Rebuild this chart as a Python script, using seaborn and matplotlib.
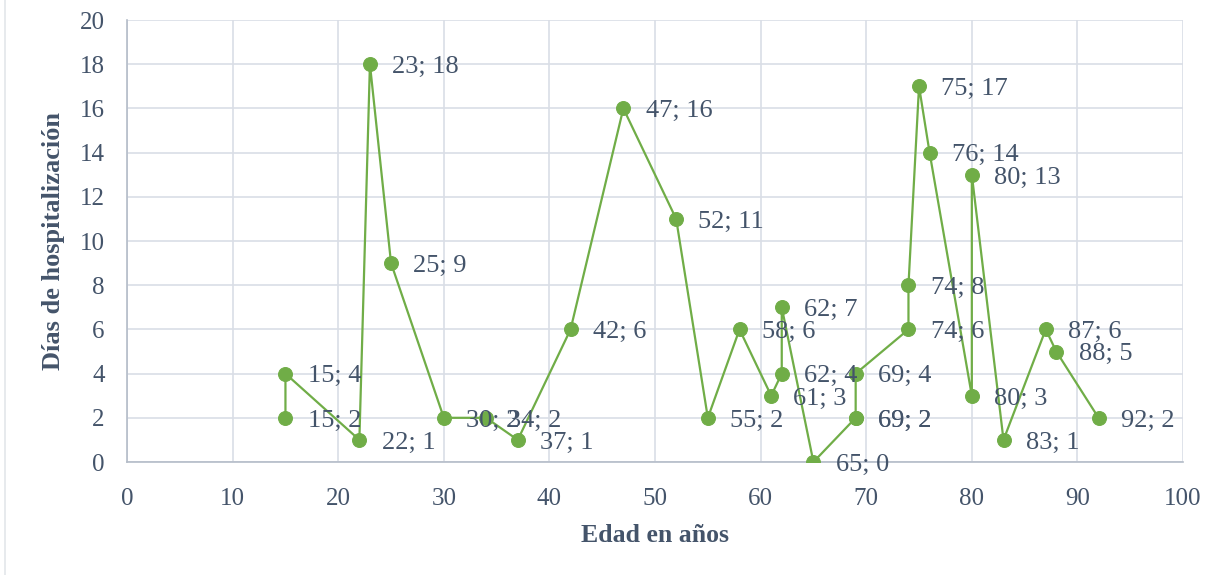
import matplotlib
matplotlib.use("Agg")
import matplotlib.pyplot as plt
import seaborn as sns
import pandas as pd

# Data (in drawing order of the line)
edad = [15, 15, 22, 23, 25, 30, 34, 37, 42, 47, 52, 55, 58, 61, 62, 62, 65,
        69, 69, 69, 74, 74, 75, 76, 80, 80, 83, 87, 88, 92]
dias = [2, 4, 1, 18, 9, 2, 2, 1, 6, 16, 11, 2, 6, 3, 4, 7, 0,
        2, 2, 4, 6, 8, 17, 14, 3, 13, 1, 6, 5, 2]

x_ticks = list(range(0, 101, 10))
y_ticks = list(range(0, 21, 2))

GREEN = "#70AD47"
TEXT = "#44546A"
GRID = "#D9DEE6"

sns.set_style("white")
plt.rcParams['font.family'] = ['Liberation Serif', 'DejaVu Serif']

df = pd.DataFrame({"edad": edad, "dias": dias})

fig = plt.figure(figsize=(12.3, 5.75), dpi=100)
ax = fig.add_axes([0.1033, 0.1965, 0.8585, 0.7687])

sns.lineplot(data=df, x="edad", y="dias", sort=False, estimator=None,
             color=GREEN, linewidth=1.6, marker="o", markersize=10,
             markeredgecolor=GREEN, markerfacecolor=GREEN, ax=ax, zorder=3)

# point labels
for xv, yv in zip(edad, dias):
    ax.annotate(f"{xv}; {yv}", (xv, yv), xytext=(16, -2), textcoords="offset points",
                ha="left", va="center", fontsize=19, color=TEXT, zorder=4)

ax.set_xlim(0, 100)
ax.set_ylim(0, 20)
ax.set_xticks(x_ticks)
ax.set_yticks(y_ticks)
ax.grid(True, color=GRID, linewidth=1.2)
ax.set_axisbelow(True)
for side in ["top", "right"]:
    ax.spines[side].set_visible(False)
for side in ["left", "bottom"]:
    ax.spines[side].set_color("#B4BCC8")
    ax.spines[side].set_linewidth(1.2)

ax.tick_params(axis="both", length=0, labelsize=18, colors=TEXT)
ax.tick_params(axis="x", pad=19)
ax.tick_params(axis="y", pad=16)

ax.set_xlabel("Edad en años", fontsize=18.5, fontweight="bold", color=TEXT, labelpad=10)
ax.set_ylabel("Días de hospitalización", fontsize=19, fontweight="bold", color=TEXT)
ax.yaxis.set_label_coords(-0.0587, 0.5)

# faint outer chart border on the left
fig.add_artist(plt.Line2D([5 / 1230, 5 / 1230], [0, 1], color="#E3E6EA", linewidth=1.2,
                          transform=fig.transFigure))

fig.savefig("out.png", dpi=100)
